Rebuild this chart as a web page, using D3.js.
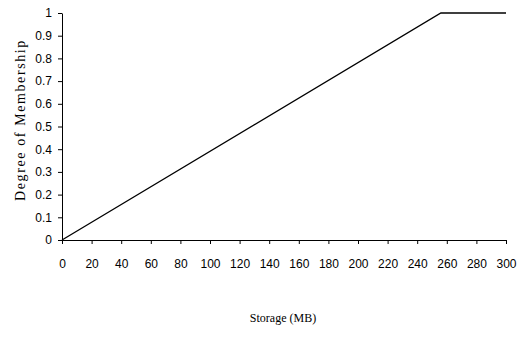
<!DOCTYPE html>
<html>
<head>
<meta charset="utf-8">
<script src="https://cdn.jsdelivr.net/npm/d3@7"></script>
<style>
  body { margin: 0; background: #fff; }
  .tick text { font-family: "Liberation Sans", Arial, sans-serif; font-size: 12px; fill: #000; }
  .tick line, .domain { stroke: #000; }
  .axisName { font-family: "Liberation Serif", "Times New Roman", serif; fill: #000; }
</style>
</head>
<body>
<script>
const storage = [0, 256, 300];
const membership = [0, 1, 1];
const xTicks = [0, 20, 40, 60, 80, 100, 120, 140, 160, 180, 200, 220, 240, 260, 280, 300];
const yTicks = [0, 0.1, 0.2, 0.3, 0.4, 0.5, 0.6, 0.7, 0.8, 0.9, 1];

const width = 524, height = 337;
const margin = { left: 62, right: 18, top: 13, bottom: 97 };

const svg = d3.select('body').append('svg').attr('width', width).attr('height', height);

const xScale = d3.scaleLinear().domain([0, 300]).range([margin.left, width - margin.right]);
const yScale = d3.scaleLinear().domain([0, 1]).range([height - margin.bottom, margin.top]);

const xAxis = d3.axisBottom(xScale).tickValues(xTicks).tickFormat(d3.format('d')).tickSizeInner(4).tickSizeOuter(4).tickPadding(15);
svg.append('g')
  .attr('transform', `translate(0, ${height - margin.bottom})`)
  .call(xAxis);

const yAxis = d3.axisLeft(yScale).tickValues(yTicks).tickFormat(d => d === 0 || d === 1 ? d : d3.format('.1f')(d)).tickSizeInner(4).tickSizeOuter(0).tickPadding(6);
svg.append('g')
  .attr('transform', `translate(${margin.left}, 0)`)
  .call(yAxis);

const line = d3.line()
  .x((d, i) => xScale(storage[i]))
  .y(d => yScale(d));

svg.append('path')
  .datum(membership)
  .attr('d', line)
  .attr('fill', 'none')
  .attr('stroke', '#000')
  .attr('stroke-width', 1.3);

svg.append('text')
  .attr('class', 'axisName')
  .attr('transform', 'rotate(-90)')
  .attr('x', -120)
  .attr('y', 25)
  .attr('text-anchor', 'middle')
  .style('font-size', '14px')
  .style('letter-spacing', '1.6px')
  .text('Degree of Membership');

svg.append('text')
  .attr('class', 'axisName')
  .attr('x', 283)
  .attr('y', 322)
  .attr('text-anchor', 'middle')
  .style('font-size', '12px')
  .text('Storage (MB)');
</script>
</body>
</html>
